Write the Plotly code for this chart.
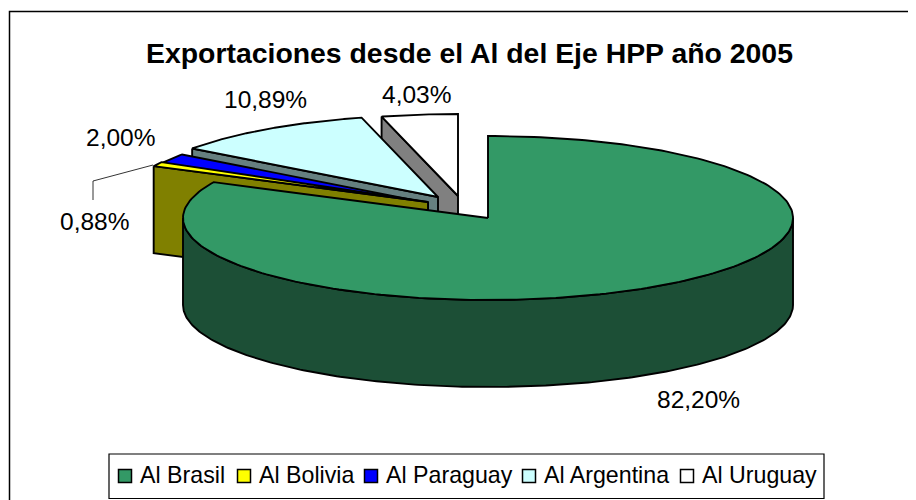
import numpy as np
import plotly.graph_objects as go

TITLE = "Exportaciones desde el Al del Eje HPP año 2005"
categories = ["Al Brasil", "Al Bolivia", "Al Paraguay", "Al Argentina", "Al Uruguay"]
shares = [82.20, 0.88, 2.00, 10.89, 4.03]
labels = ["82,20%", "0,88%", "2,00%", "10,89%", "4,03%"]
top_colors = ["#339966", "#FFFF00", "#0000FF", "#CCFFFF", "#FFFFFF"]
side_colors = ["#1C4F36", "#808000", "#000080", "#668080", "#808080"]

# projected pie geometry (pixels of the 916x500 page)
RX, RY, DEPTH = 305, 82, 87
apexes = [(488, 218), (428, 202), (428, 203), (438, 197), (458, 196)]
label_pos = [(698, 399), (94, 221), (120, 137), (265, 99), (416, 94)]
legend_marker_x = [125, 244, 371, 529, 687]
legend_text_x = [138, 257, 384, 542, 700]
LEGEND_Y = 475
FS = 23.2
FS_LABEL = 24.5
PAGE_MARGIN = 8  # the page body offsets the figure by this much

fig = go.Figure()

# slice angle spans, clockwise from 12 o'clock
edges = np.concatenate([[0], np.cumsum(shares)]) / sum(shares) * 2 * np.pi
LINE = dict(color="black", width=1.9)


def arc(i, t0, t1, n=240):
    t = np.linspace(t0, t1, n)
    cx, cy = apexes[i]
    return cx + RX * np.sin(t), cy - RY * np.cos(t)


def poly(xs, ys, color, name):
    fig.add_trace(go.Scatter(
        x=list(xs) + [xs[0]], y=list(ys) + [ys[0]], mode="lines", fill="toself",
        fillcolor=color, line=LINE, showlegend=False, hoverinfo="text", text=name,
    ))


# painter's order: back slices first, the big slice last
for i in [4, 3, 2, 1, 0]:
    t0, t1 = edges[i], edges[i + 1]
    cx, cy = apexes[i]
    ax, ay = arc(i, t0, t1)
    if i == 0:
        # outer rim of the big slice, facing the viewer
        rx, ry = arc(0, np.pi / 2, 3 * np.pi / 2)
        poly(np.r_[rx, rx[::-1]], np.r_[ry, ry[::-1] + DEPTH], side_colors[i], categories[i])
    else:
        # radial wall on the lower edge of the slice
        ex, ey = ax[0], ay[0]
        poly([ex, cx, cx, ex], [ey, cy, cy + DEPTH, ey + DEPTH], side_colors[i], categories[i])
    poly(np.r_[cx, ax], np.r_[cy, ay], top_colors[i], categories[i])

# leader line of the smallest slice
fig.add_trace(go.Scatter(x=[153, 93, 93], y=[165, 181, 200], mode="lines",
                         line=dict(color="black", width=0.8), showlegend=False, hoverinfo="skip"))

# legend
fig.add_trace(go.Scatter(
    x=legend_marker_x, y=[476] * len(categories), mode="markers",
    marker=dict(symbol="square", size=13, color=top_colors, line=dict(color="black", width=1.5)),
    showlegend=False, hoverinfo="text", text=categories,
))

annotations = [
    dict(x=469, y=53, text=f"<b>{TITLE}</b>", font=dict(size=28.4)),
]
for (x, y), t in zip(label_pos, labels):
    annotations.append(dict(x=x, y=y, text=t, font=dict(size=FS_LABEL)))
for x, t in zip(legend_text_x, categories):
    annotations.append(dict(x=x, y=LEGEND_Y, text=t, font=dict(size=FS), xanchor="left"))
for a in annotations:
    a.update(xref="x", yref="y", showarrow=False)
    a["font"].update(family="Liberation Sans", color="black")

shapes = [
    dict(type="rect", x0=9.5, y0=11.5, x1=960, y1=540, line=dict(color="black", width=1.5), layer="below"),
    dict(type="rect", x0=109, y0=454, x1=824, y1=498.5, line=dict(color="black", width=1.2),
         fillcolor="white", layer="below"),
]

fig.update_layout(
    width=916, height=500, margin=dict(l=0, r=0, t=0, b=0),
    paper_bgcolor="white", plot_bgcolor="white", showlegend=False,
    xaxis=dict(range=[PAGE_MARGIN, 916 + PAGE_MARGIN], visible=False, fixedrange=True),
    yaxis=dict(range=[500 + PAGE_MARGIN, PAGE_MARGIN], visible=False, fixedrange=True),
    annotations=annotations, shapes=shapes,
)
fig.write_html("out.html", config={"displayModeBar": False})
